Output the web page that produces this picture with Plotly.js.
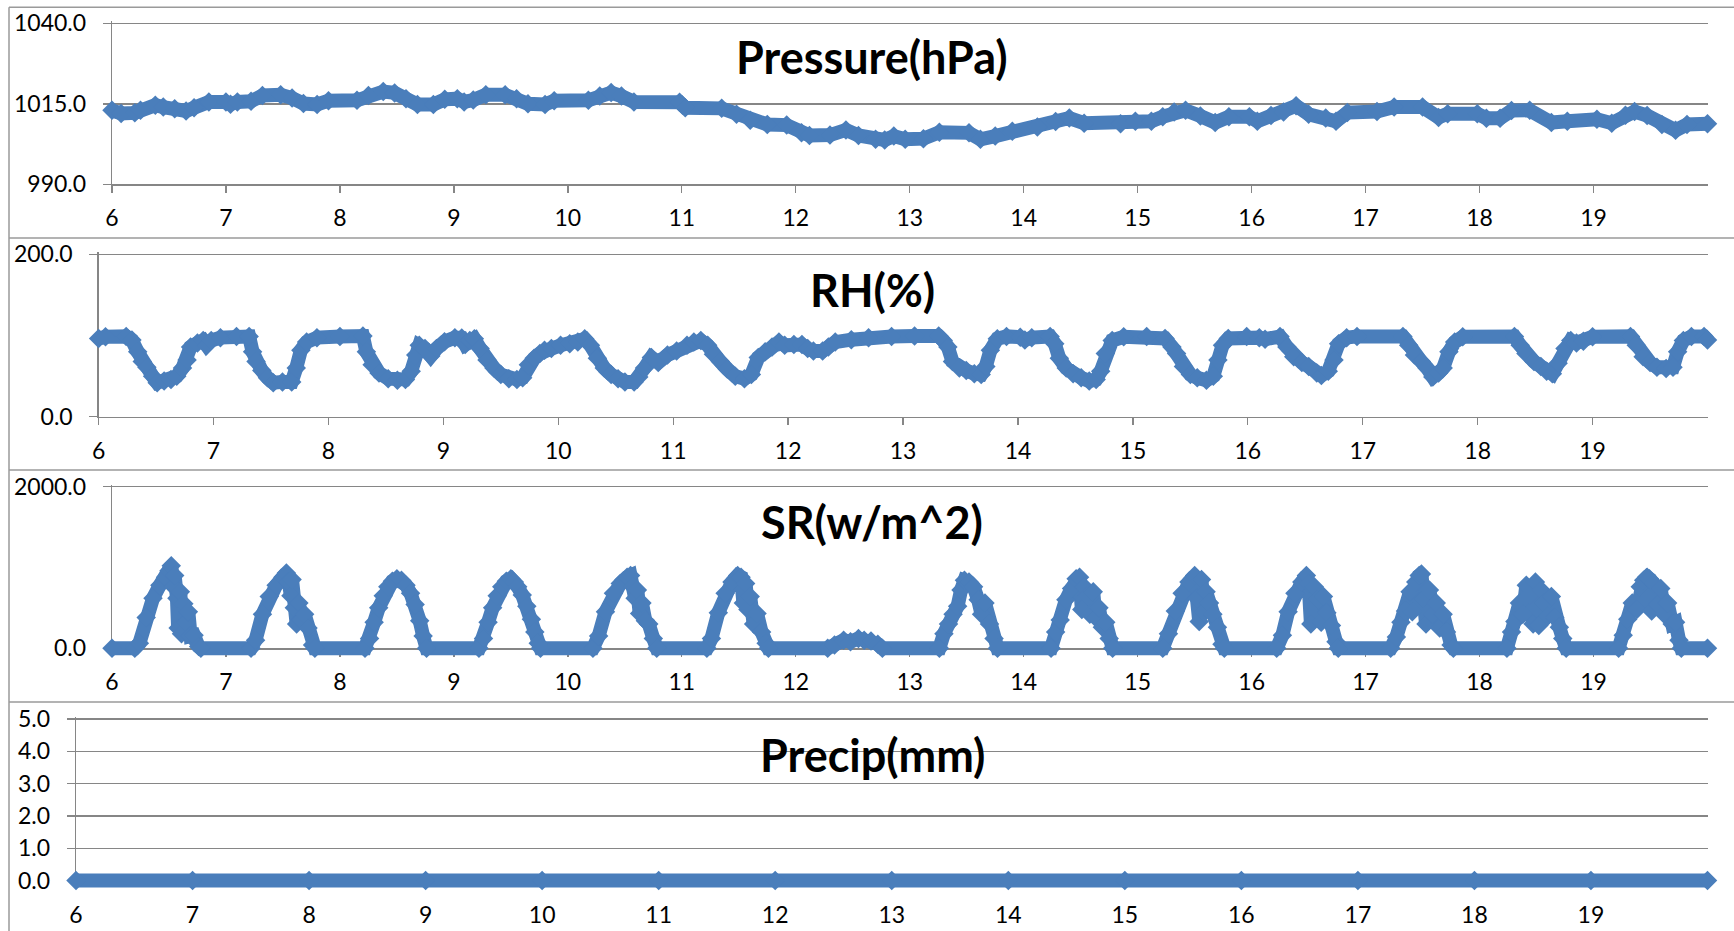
<!DOCTYPE html>
<html>
<head>
<meta charset="utf-8">
<script src="https://cdn.plot.ly/plotly-3.0.1.min.js"></script>
<style>html,body{margin:0;padding:0;background:#fff;}#chart{width:1734px;height:931px;}</style>
</head>
<body>
<div id="chart"></div>
<script>
// ---------------- DATA ----------------
const panelTitles = ["Pressure(hPa)", "RH(%)", "SR(w/m^2)", "Precip(mm)"];
const dayTicks = [6,7,8,9,10,11,12,13,14,15,16,17,18,19];

const pressureX = [6.00,6.08,6.20,6.25,6.38,6.45,6.55,6.65,6.72,6.85,7.00,7.04,7.10,7.22,7.32,7.48,7.58,7.68,7.80,7.90,8.15,8.25,8.38,8.48,8.58,8.68,8.82,8.92,9.03,9.09,9.17,9.28,9.45,9.55,9.65,9.80,9.88,10.18,10.28,10.38,10.47,10.58,10.98,11.03,11.35,11.48,11.60,11.75,11.92,12.05,12.12,12.30,12.44,12.55,12.70,12.78,12.86,12.96,13.12,13.26,13.52,13.62,13.75,13.90,14.12,14.28,14.40,14.53,14.85,14.98,15.12,15.22,15.32,15.42,15.55,15.68,15.80,15.98,16.05,16.17,16.28,16.39,16.50,16.65,16.74,16.84,17.10,17.25,17.50,17.64,17.72,17.98,18.06,18.18,18.28,18.44,18.63,18.77,19.03,19.16,19.28,19.36,19.47,19.60,19.72,19.82,20.00];
const pressureY = [1013.0,1012.0,1012.2,1013.0,1014.6,1014.0,1013.5,1012.8,1013.8,1015.6,1015.6,1014.9,1015.6,1015.8,1017.6,1017.8,1016.8,1015.1,1014.8,1016.0,1016.1,1017.6,1018.8,1018.4,1016.6,1014.8,1014.8,1016.4,1016.6,1015.6,1016.2,1017.8,1017.8,1016.6,1015.0,1014.8,1016.0,1016.1,1017.4,1018.5,1017.4,1015.6,1015.5,1013.8,1013.6,1011.8,1009.9,1008.6,1008.4,1006.0,1005.2,1005.3,1006.9,1005.2,1004.0,1003.8,1005.0,1004.0,1004.2,1006.2,1006.0,1004.0,1005.0,1006.5,1007.8,1009.5,1010.6,1009.0,1008.8,1009.6,1009.6,1011.0,1012.5,1013.0,1011.2,1009.2,1011.0,1011.0,1009.6,1011.4,1012.5,1014.4,1011.8,1010.6,1009.6,1012.3,1012.6,1014.0,1014.0,1010.8,1011.9,1011.9,1010.5,1010.5,1012.9,1013.0,1009.2,1009.6,1010.2,1009.0,1011.5,1012.6,1011.4,1008.6,1006.8,1008.6,1008.8];

const rhX = [6.00,6.06,6.24,6.29,6.34,6.38,6.42,6.47,6.51,6.57,6.63,6.68,6.73,6.77,6.80,6.86,6.91,6.94,6.98,7.06,7.20,7.31,7.34,7.37,7.42,7.47,7.52,7.60,7.68,7.72,7.76,7.81,7.90,8.10,8.30,8.33,8.38,8.44,8.52,8.60,8.67,8.72,8.76,8.79,8.84,8.89,8.94,9.01,9.10,9.16,9.19,9.23,9.27,9.32,9.38,9.44,9.50,9.57,9.64,9.69,9.74,9.79,9.84,9.88,9.94,10.02,10.10,10.17,10.23,10.28,10.34,10.40,10.46,10.52,10.58,10.66,10.70,10.75,10.81,10.87,10.95,11.03,11.12,11.18,11.24,11.30,11.35,11.41,11.47,11.54,11.62,11.68,11.74,11.80,11.86,11.92,11.97,12.05,12.12,12.17,12.22,12.30,12.35,12.41,12.55,12.70,12.90,13.10,13.31,13.35,13.39,13.43,13.49,13.55,13.62,13.68,13.72,13.76,13.82,13.90,14.02,14.06,14.12,14.28,14.32,14.36,14.42,14.48,14.55,14.62,14.68,14.72,14.76,14.82,14.92,15.12,15.28,15.34,15.38,15.44,15.50,15.56,15.64,15.70,15.74,15.78,15.83,15.99,16.10,16.15,16.28,16.34,16.40,16.47,16.53,16.60,16.64,16.70,16.75,16.79,16.86,16.95,17.35,17.40,17.45,17.51,17.56,17.61,17.66,17.70,17.75,17.80,17.87,18.32,18.37,18.42,18.49,18.55,18.60,18.65,18.70,18.76,18.81,18.86,18.92,19.00,19.33,19.38,19.44,19.50,19.56,19.64,19.70,19.74,19.79,19.86,19.97,20.00];
const rhY = [96.5,98.5,99,94.5,80,68,61,50,42,44,46,50,60,70,86,91,94,88,94,97.5,98.8,99,80,68,57,48,42,43,43,60,82,92,97.5,99,99.5,80,64,54,47,45,46,56,76,88,84,75,84,92.5,97.5,97,89,94,96,84,70,60,52,47,46,48,64,72,78,82,84,88,90,92,96,88,72,60,52,47,43,43,49,60,73,67,76,81,88,92,94,88,77,68,59,50,47,52,73,80,86,92,88,89,89,84,81,81,86,92,95,97.5,99,99.5,99.5,94,86,68,60,57,53,52,62,82,96,99,98,94.5,97.5,99,90,72,60,53,48,44,46,56,78,94,98.5,99,96.5,86,78,62,52,48,45,50,70,88,96.5,99,97.5,95.5,99,86,74,67,62,54,51,56,70,90,97.5,99,99,88,76,68,60,49,54,60,80,92,98.5,99,88,78,68,62,56,53,66,84,94,91,93,98.5,99,88,74,67,61,59.5,61,80,94,99,99,94.5];

const srX = [6.00,6.20,6.24,6.30,6.36,6.42,6.47,6.50,6.52,6.54,6.55,6.57,6.58,6.60,6.61,6.63,6.65,6.67,6.69,6.72,6.76,6.78,
 7.22,7.26,7.32,7.38,7.44,7.50,7.53,7.55,7.57,7.58,7.60,7.62,7.64,7.66,7.69,7.72,7.76,7.78,
 8.22,8.26,8.30,8.34,8.38,8.42,8.46,8.50,8.54,8.58,8.62,8.66,8.70,8.73,8.76,
 9.22,9.26,9.30,9.34,9.38,9.42,9.46,9.50,9.53,9.56,9.60,9.64,9.68,9.71,9.74,9.76,
 10.22,10.27,10.33,10.40,10.46,10.52,10.55,10.57,10.59,10.61,10.63,10.65,10.68,10.71,10.75,10.78,
 11.22,11.26,11.32,11.38,11.44,11.49,11.52,11.54,11.56,11.58,11.60,11.63,11.66,11.70,11.74,11.76,
 12.28,12.34,12.42,12.48,12.55,12.60,12.66,12.72,12.76,
 13.26,13.30,13.34,13.38,13.42,13.45,13.48,13.52,13.56,13.60,13.63,13.66,13.70,13.74,13.77,
 14.24,14.28,14.32,14.37,14.42,14.46,14.49,14.51,14.53,14.56,14.58,14.61,14.63,14.66,14.69,14.72,14.75,14.78,
 15.22,15.27,15.33,15.39,15.45,15.50,15.52,15.54,15.56,15.58,15.60,15.63,15.66,15.70,15.74,15.76,
 16.22,16.27,16.32,16.38,16.44,16.48,16.50,16.52,16.55,16.58,16.61,16.63,16.66,16.70,16.74,16.76,
 17.22,17.27,17.31,17.35,17.39,17.41,17.44,17.47,17.49,17.51,17.53,17.56,17.59,17.62,17.65,17.68,17.71,17.75,17.77,
 18.24,18.28,18.31,18.35,18.38,18.41,18.44,18.47,18.49,18.52,18.54,18.57,18.60,18.63,18.66,18.70,18.73,18.76,
 19.22,19.26,19.30,19.34,19.38,19.41,19.44,19.47,19.49,19.51,19.53,19.56,19.59,19.62,19.65,19.69,19.72,19.75,19.77,20.00];
const srY = [0,0,60,380,620,780,880,960,1020,760,900,620,250,700,180,550,320,450,150,160,20,0,
 0,100,420,640,780,880,930,820,650,850,500,300,560,350,420,250,40,0,
 0,120,320,500,650,760,830,860,840,780,680,540,340,150,0,
 0,120,320,500,650,760,830,860,820,760,660,520,360,200,60,0,
 0,150,450,680,800,880,900,760,620,720,430,560,340,300,120,0,
 0,120,440,680,820,900,880,560,800,480,640,300,430,200,60,0,
 0,40,100,80,120,100,90,50,0,
 0,180,300,420,520,720,840,820,760,600,420,560,300,120,0,
 0,200,350,600,740,860,880,480,760,650,420,700,380,500,260,320,120,0,
 0,180,460,680,820,900,620,330,850,440,700,560,420,260,50,0,
 0,160,450,680,820,900,800,300,760,600,320,640,440,280,80,0,
 0,140,320,460,700,450,820,900,920,620,300,720,420,560,250,420,200,40,0,
 0,200,330,560,420,780,660,300,820,280,720,560,400,640,380,260,120,0,
 0,160,360,560,480,760,840,880,860,460,800,540,740,420,560,300,320,100,0,0];

const precipX = [6,7,8,9,10,11,12,13,14,15,16,17,18,19,20];
const precipY = [0,0,0,0,0,0,0,0,0,0,0,0,0,0,0];

const yRanges = [[990,1040],[0,200],[0,2000],[0,5]];
const yDticks = [25,200,2000,1];

// ---------------- LAYOUT (pixels) ----------------
const W = 1734, H = 931;
const boxes = [
  {left:112,  right:1707.5, top:23.3,  bottom:184.4},
  {left:98.6, right:1707.5, top:254.4, bottom:416.8},
  {left:112,  right:1707.5, top:486.7, bottom:648.2},
  {left:76,   right:1707.5, top:719,   bottom:880.6}
];
const titleY = [57, 290, 522, 755];
const BLUE = '#4a7ebb', GRID = '#868686';
const tickFont = {family:'Lato, "Open Sans", sans-serif', size:23, color:'#000'};

const series = [[pressureX,pressureY],[rhX,rhY],[srX,srY],[precipX,precipY]];
const layout = {
  width: W, height: H, margin:{l:0,r:0,t:0,b:0},
  paper_bgcolor:'#fff', plot_bgcolor:'rgba(0,0,0,0)', showlegend:false,
  shapes:[], annotations:[]
};
const traces = [];
const dataTraces = [];
const xFull = [6,20];
boxes.forEach((b,i)=>{
  const n = i+1, m = i+5;
  const yr = yRanges[i];
  const ppy = (b.bottom-b.top)/(yr[1]-yr[0]);
  const ppx = (b.right-b.left)/(xFull[1]-xFull[0]);
  const topExt = 2; // keep the top gridline drawn
  const xn = n===1 ? 'xaxis' : 'xaxis'+n, yn = n===1 ? 'yaxis' : 'yaxis'+n;
  const xid = n===1 ? 'x' : 'x'+n, yid = n===1 ? 'y' : 'y'+n;
  layout[xn] = {
    domain:[b.left/W, b.right/W], range:xFull, anchor:yid,
    tickmode:'array', tickvals:dayTicks, ticktext:dayTicks.map(String),
    showline:true, linecolor:GRID, linewidth:1.3, ticks:'outside', ticklen:7,
    tickcolor:GRID, tickwidth:1.3, showgrid:false, zeroline:false,
    tickfont:tickFont, ticklabelstandoff:6, fixedrange:true
  };
  layout[yn] = {
    domain:[1-b.bottom/H, 1-(b.top-topExt)/H], range:[yr[0], yr[1]+topExt/ppy], anchor:xid,
    tickmode:'linear', tick0:yr[0], dtick:yDticks[i], tickformat:'.1f',
    showline:true, linecolor:GRID, linewidth:1.3, ticks:'outside', ticklen:8,
    tickcolor:GRID, tickwidth:1.3, showgrid:true, gridcolor:GRID, gridwidth:1.3,
    zeroline:false, tickfont:tickFont, ticklabelstandoff:12, fixedrange:true
  };
  // invisible trace so the framed subplot (axes, ticks, grid) is drawn
  traces.push({type:'scatter', mode:'markers', x:[xFull[0]], y:[yr[0]], xaxis:xid, yaxis:yid,
    marker:{opacity:0, size:1}, hoverinfo:'skip', cliponaxis:true});
  // hidden data axes with padded domain so thick marks are not clipped
  const pad = 16;
  layout['xaxis'+m] = {
    domain:[(b.left-pad)/W, (b.right+pad)/W],
    range:[xFull[0]-pad/ppx, xFull[1]+pad/ppx], anchor:'y'+m, visible:false, fixedrange:true
  };
  layout['yaxis'+m] = {
    domain:[1-(b.bottom+pad)/H, 1-(b.top-pad)/H],
    range:[yr[0]-pad/ppy, yr[1]+pad/ppy], anchor:'x'+m, visible:false, fixedrange:true
  };
  dataTraces.push({
    type:'scatter', mode:'lines+markers', x:series[i][0], y:series[i][1],
    xaxis:'x'+m, yaxis:'y'+m, cliponaxis:false, hoverinfo:'skip',
    line:{color:BLUE, width:14, shape:'linear'},
    marker:{symbol:'diamond', size:15, color:BLUE, line:{width:0}}
  });
  layout.annotations.push({
    xref:'paper', yref:'paper', x:872.5/W, y:1-titleY[i]/H, xanchor:'center', yanchor:'middle',
    text:panelTitles[i], showarrow:false,
    font:{family:'Lato, "Open Sans", sans-serif', size:45, weight:700, color:'#000'}
  });
});
// chart borders
const BORDER = '#9a9a9a';
[7.3, 238, 470, 702].forEach(y=>{
  layout.shapes.push({type:'line', xref:'paper', yref:'paper', x0:9/W, x1:1, y0:1-y/H, y1:1-y/H,
    line:{color:BORDER, width:1.5}});
});
layout.shapes.push({type:'line', xref:'paper', yref:'paper', x0:9/W, x1:9/W, y0:0, y1:1-7.3/H,
  line:{color:BORDER, width:1.5}});

Plotly.newPlot('chart', traces.concat(dataTraces), layout, {displayModeBar:false, staticPlot:true});
</script>
</body>
</html>
